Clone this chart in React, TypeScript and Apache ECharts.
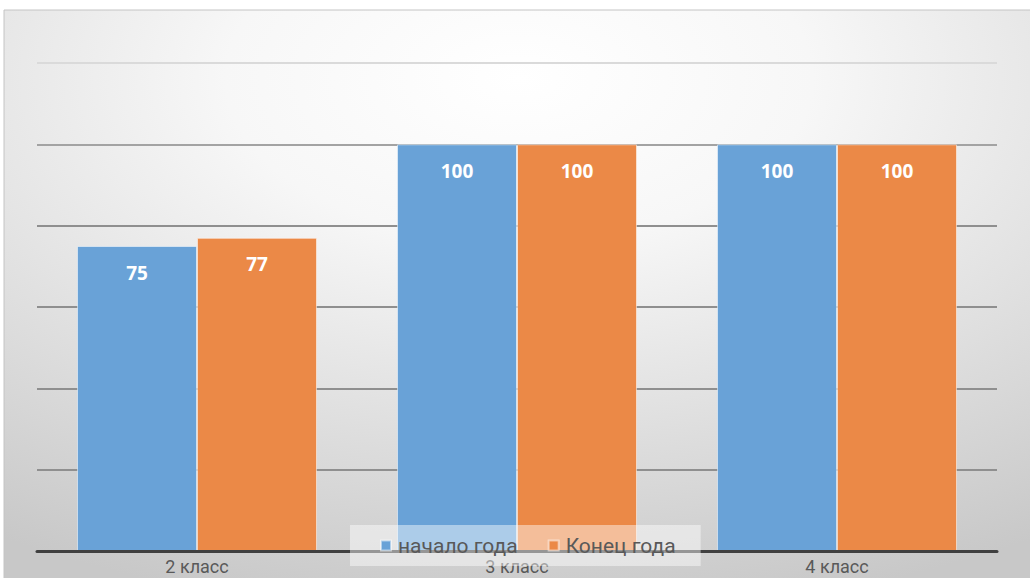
import React, { useEffect, useRef } from "react";
import * as echarts from "echarts";

const categories = ["2 класс", "3 класс", "4 класс"];
const startYear = [75, 100, 100];
const endYear = [77, 100, 100];
const seriesNames = ["начало года", "Конец года"];

export default function App() {
  const ref = useRef<HTMLDivElement>(null);
  useEffect(() => {
    if (!ref.current) return;
    document.body.style.margin = "0";
    const chart = echarts.init(ref.current, null, { renderer: "svg", width: 1030, height: 578 });
    const labelStyle = {
      show: true,
      position: "insideTop",
      distance: 17,
      color: "#ffffff",
      fontSize: 19,
      fontWeight: "bold",
      fontFamily: "'Open Sans', 'DejaVu Sans', sans-serif",
    };
    chart.setOption({
      animation: false,
      graphic: [
        {
          type: "rect",
          z: -10,
          silent: true,
          shape: { x: 4, y: 10, width: 1030, height: 570 },
          style: {
            fill: {
              type: "radial",
              x: 0.5,
              y: 0.12,
              r: 0.95,
              colorStops: [
                { offset: 0, color: "#ffffff" },
                { offset: 0.3, color: "#f7f7f7" },
                { offset: 0.7, color: "#dcdcdc" },
                { offset: 1, color: "#c8c8c8" },
              ],
            },
            stroke: "#c4c4c4",
            lineWidth: 1,
          },
        },
      ],
      grid: { left: 37, right: 33, top: 63, bottom: 27, containLabel: false },
      legend: {
        data: seriesNames,
        left: 350,
        top: 525,
        padding: [10, 25, 10, 30],
        itemGap: 30,
        itemWidth: 10,
        itemHeight: 10,
        icon: "rect",
        backgroundColor: "rgba(255,255,255,0.45)",
        textStyle: {
          fontSize: 21,
          color: "#595959",
          fontFamily: "Roboto, sans-serif",
          padding: [0, 0, 0, 2],
        },
        z: 10,
      },
      xAxis: {
        type: "category",
        data: categories,
        axisLine: { lineStyle: { color: "#404040", width: 3 } },
        axisTick: { show: false },
        axisLabel: {
          margin: 6,
          fontSize: 18,
          lineHeight: 18,
          color: "#595959",
          fontFamily: "Roboto, sans-serif",
        },
        z: 3,
      },
      yAxis: {
        type: "value",
        min: 0,
        max: 120,
        interval: 20,
        axisLabel: { show: false },
        axisLine: { show: false },
        axisTick: { show: false },
        splitLine: {
          lineStyle: {
            color: ["#8f8f8f", "#8f8f8f", "#8f8f8f", "#8f8f8f", "#8f8f8f", "#a3a3a3", "#dadada"],
            width: 2,
          },
        },
      },
      series: [
        {
          name: seriesNames[0],
          type: "bar",
          data: startYear,
          barGap: "0%",
          barCategoryGap: "25%",
          itemStyle: { color: "#69a2d7", borderColor: "rgba(255,255,255,0.5)", borderWidth: 1 },
          label: labelStyle,
        },
        {
          name: seriesNames[1],
          type: "bar",
          data: endYear,
          itemStyle: { color: "#eb8947", borderColor: "rgba(255,255,255,0.5)", borderWidth: 1 },
          label: labelStyle,
        },
      ],
    });
    return () => chart.dispose();
  }, []);
  return <div ref={ref} style={{ width: 1030, height: 578, background: "#ffffff", overflow: "hidden" }} />;
}
